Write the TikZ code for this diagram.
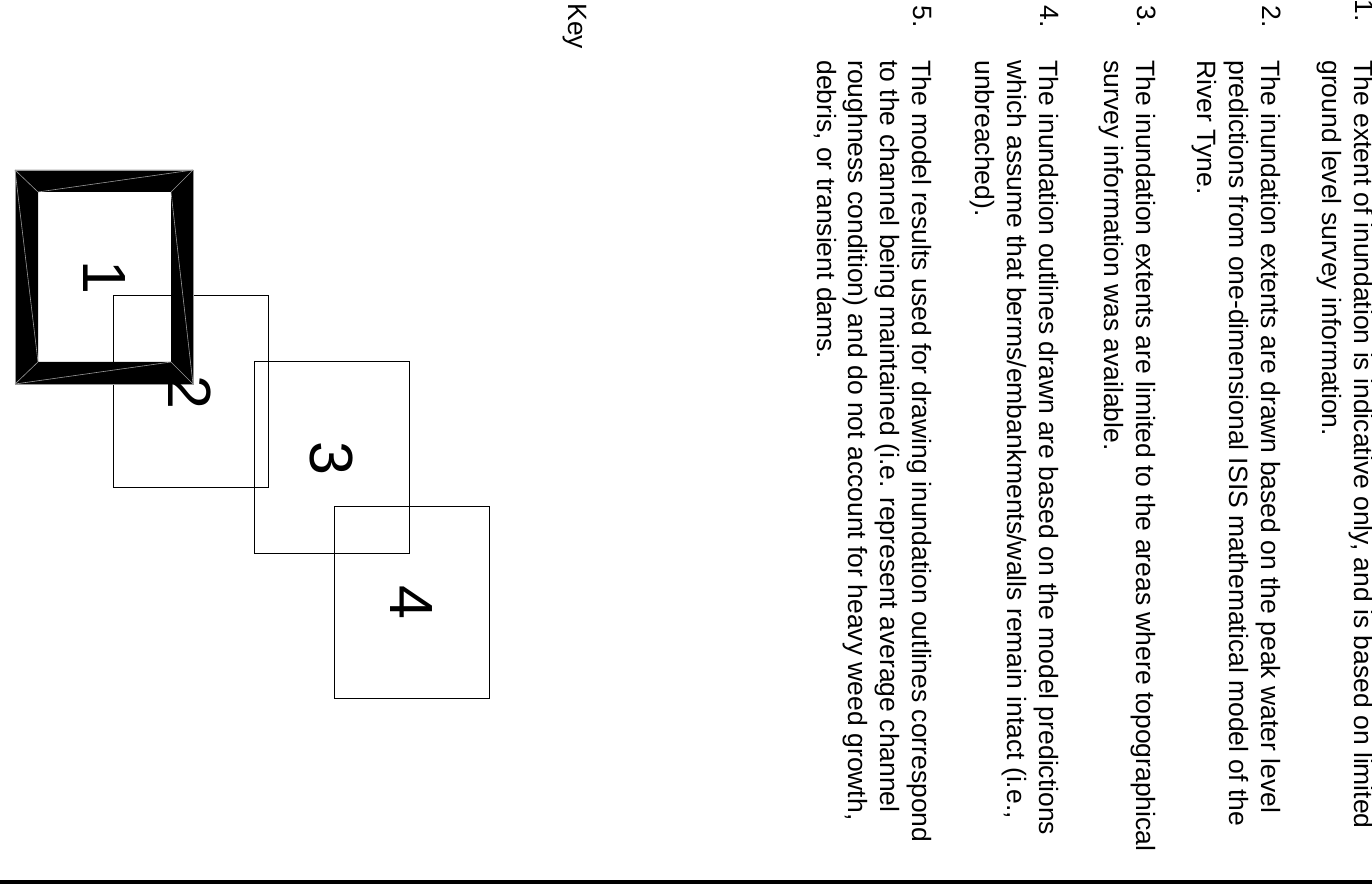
\documentclass[tikz,border=0pt]{standalone}
\usepackage{fontspec}
\setmainfont{Liberation Sans}

\tikzset{
	note/.style={rotate=-90, anchor=north west, inner sep=0pt, align=left, font=\fontsize{13.25}{15.9}\selectfont},
	notenum/.style={rotate=-90, anchor=base west, inner sep=0pt, font=\fontsize{13.25}{15.9}\selectfont},
	keybox/.style={line width=0.5pt, color=black},
	keynum/.style={rotate=-90, inner sep=0pt, font=\fontsize{30.5}{36}\selectfont},
	seam/.style={line width=0.3pt, color=black!40}
}

\begin{document}
\begin{tikzpicture}[x=0.5pt, y=-0.5pt]
			%%%%% START %%%%%
			\useasboundingbox (0, 0) rectangle (1372, 892);
			
			\node[notenum] (n1) at (1355, -1) {1.};
			\node[note] (t1) at (1374, 60) {The extent of inundation is indicative only, and is based on limited\\ground level survey information.};
			
			\node[notenum] (n2) at (1262, 5) {2.};
			\node[note] (t2) at (1281, 60) {The inundation extents are drawn based on the peak water level\\predictions from one-dimensional ISIS mathematical model of the\\River Tyne.};
			
			\node[notenum] (n3) at (1137, 5) {3.};
			\node[note] (t3) at (1156, 60) {The inundation extents are limited to the areas where topographical\\survey information was available.};
			
			\node[notenum] (n4) at (1040, 5) {4.};
			\node[note] (t4) at (1059, 60) {The inundation outlines drawn are based on the model predictions\\which assume that berms/embankments/walls remain intact (i.e.,\\unbreached).};
			
			\node[notenum] (n5) at (913, 5) {5.};
			\node[note] (t5) at (932, 60) {The model results used for drawing inundation outlines correspond\\to the channel being maintained (i.e. represent average channel\\roughness condition) and do not account for heavy weed growth,\\debris, or transient dams.};
			
			\node[notenum] (key) at (568, 3) {Key};
			
			\draw[keybox] (113, 296) rectangle (268, 488);
			\draw[keybox] (254, 362) rectangle (409, 554);
			\draw[keybox] (334, 507) rectangle (489, 699);
			
			\fill[even odd rule] (15, 170) rectangle (193, 384) (38, 192) rectangle (171, 362);
			\draw[seam] (15, 170) -- (38, 192);
			\draw[seam] (193, 170) -- (171, 192);
			\draw[seam] (193, 384) -- (171, 362);
			\draw[seam] (15, 384) -- (38, 362);
			\draw[seam] (193, 170) -- (38, 192);
			\draw[seam] (15, 170) -- (38, 362);
			\draw[seam] (15, 384) -- (171, 362);
			\draw[seam] (171, 192) -- (193, 384);
			\draw[seam] (15, 170) rectangle (193, 384);
			
			\node[keynum] (k1) at (104, 277) {1};
			\node[keynum] (k2) at (190, 392) {2};
			\node[keynum] (k3) at (331, 458) {3};
			\node[keynum] (k4) at (411, 602) {4};
			
			\draw[line width=2.4pt, color=black!80] (0, 882) -- (1372, 882);
			\draw[line width=1.6pt] (0, 882) -- (1372, 882);
			
			%%%%% END %%%%%
\end{tikzpicture}
\end{document}
